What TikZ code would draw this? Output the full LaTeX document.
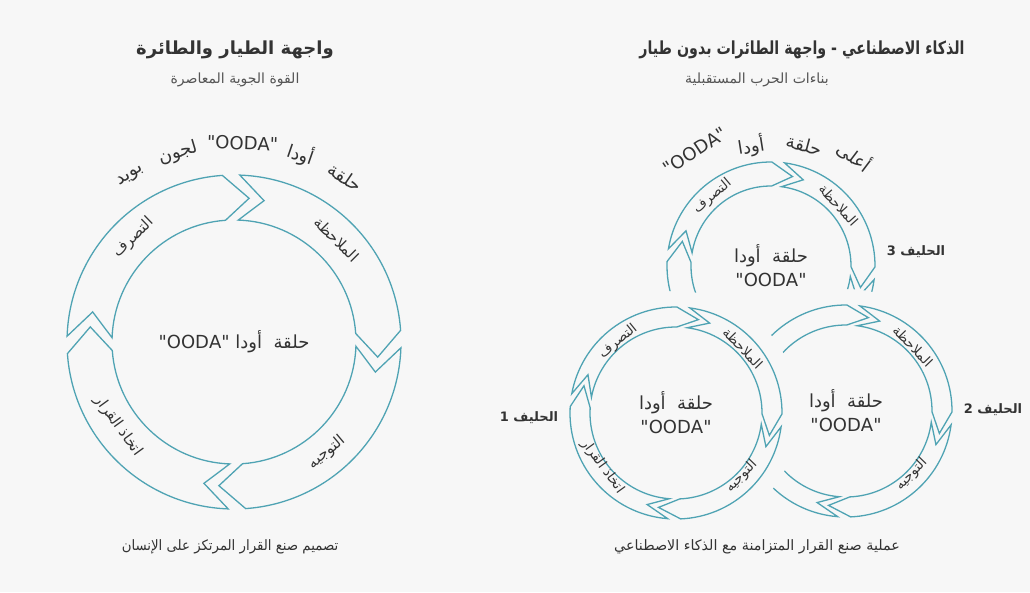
\documentclass[tikz,border=0pt]{standalone}
\usepackage{fontspec}
\newfontfamily\arfont[Script=Arabic]{DejaVu Sans}
\TeXXeTstate=1
\definecolor{bgcol}{HTML}{F7F7F7}
\definecolor{ringcol}{HTML}{4FA3B3}
\definecolor{txtcol}{HTML}{333333}
\definecolor{subcol}{HTML}{555555}
\newcommand\oodaseg[6]{% Ro Ri Rm back front depth
  \draw[ringline] ({#4}:#1pt) arc[start angle={#4}, end angle={#5}, radius=#1pt]
    -- ({#5-#6}:#3pt) -- ({#5}:#2pt)
    arc[start angle={#5}, end angle={#4}, radius=#2pt]
    -- ({#4-#6}:#3pt) -- cycle;}
\newcommand\oodaring[8]{% Ro Ri top right bottom left gap depth
  \pgfmathsetmacro\rmid{(#1+#2)/2}%
  \pgfmathsetmacro\hg{#7/2}%
  \oodaseg{#1}{#2}{\rmid}{#3-\hg}{#4+\hg}{#8}%
  \oodaseg{#1}{#2}{\rmid}{#4-\hg}{#5+\hg}{#8}%
  \oodaseg{#1}{#2}{\rmid}{#5-\hg}{#6+\hg}{#8}%
  \oodaseg{#1}{#2}{\rmid}{#6-\hg}{#3-360+\hg}{#8}}
\tikzset{
  ringline/.style={draw=ringcol, line width=1.3pt, line join=miter},
  ttl/.style={font=\arfont\bfseries\fontsize{18}{22}\selectfont, text=txtcol, inner sep=0pt},
  subttl/.style={font=\arfont\fontsize{14}{17}\selectfont, text=subcol, inner sep=0pt},
  capt/.style={font=\arfont\fontsize{14.3}{18}\selectfont, text=txtcol, inner sep=0pt},
  arcw/.style={font=\arfont\fontsize{18}{22}\selectfont, text=txtcol, inner sep=0pt},
  ctr/.style={font=\arfont\fontsize{18}{24}\selectfont, text=txtcol, inner sep=0pt, align=center},
  ctrs/.style={font=\arfont\fontsize{18}{24}\selectfont, text=txtcol, inner sep=0pt, align=center},
  biglbl/.style={font=\arfont\fontsize{15}{18}\selectfont, text=txtcol, inner sep=0pt},
  smlbl/.style={font=\arfont\fontsize{13.5}{16}\selectfont, text=txtcol, inner sep=0pt},
  ally/.style={font=\arfont\bfseries\fontsize{13}{16}\selectfont, text=txtcol, inner sep=0pt},
}
\begin{document}
\begin{tikzpicture}[x=1pt,y=1pt]
\useasboundingbox (0,0) rectangle (1030,592);
\fill[bgcol] (0,0) rectangle (1030,592);

% ---------- titles ----------
\node[ttl] (t1) at (235,542) {\beginR واجهة الطيار والطائرة\endR};
\node[subttl] (s1) at (235,512) {\beginR القوة الجوية المعاصرة\endR};
\node[ttl, xscale=0.79] (t2) at (802,542) {\beginR الذكاء الاصطناعي - واجهة الطائرات بدون طيار\endR};
\node[subttl] (s2) at (757,512) {\beginR بناءات الحرب المستقبلية\endR};

% ---------- left big ring ----------
\begin{scope}[shift={(234,250)}]
  \oodaring{167}{122}{91}{1}{-89}{-179}{6}{10}
  \node[ctr] (cA) at (0,0) {\beginR حلقة\ \ أودا "\beginL OODA\endL"\endR};
  \node[biglbl, rotate=-45] (obsA) at (45:145pt) {\beginR الملاحظة\endR};
  \node[biglbl, rotate=44] (actA) at (134:145pt) {\beginR التصرف\endR};
  \node[biglbl, rotate=40] (oriA) at (-50:144pt) {\beginR التوجيه\endR};
  \node[biglbl, rotate=-54] (decA) at (216:143pt) {\beginR اتخاذ القرار\endR};
  \node[arcw, rotate=-34] (w1) at (56:199pt) {\beginR حلقة\endR};
  \node[arcw, rotate=-19] (w2) at (70.5:199pt) {\beginR أودا\endR};
  \node[arcw, rotate=-2] (w3) at (87.5:199pt) {"OODA"};
  \node[arcw, rotate=16.5] (w4) at (106.5:197pt) {\beginR لجون\endR};
  \node[arcw, rotate=32] (w5) at (122:195pt) {\beginR بويد\endR};
\end{scope}
\node[capt, xscale=0.93] (c1) at (230,45) {\beginR تصميم صنع القرار المرتكز على الإنسان\endR};

% ---------- top right ring (behind) ----------
\begin{scope}[even odd rule]
  \clip (0,0) -- (0,592) -- (1030,592) -- (1030,0) -- cycle (676,179) circle[radius=122pt];
  \begin{scope}[even odd rule]
    \clip (0,0) -- (0,592) -- (1030,592) -- (1030,0) -- cycle (846,181) circle[radius=122pt];
    \begin{scope}[shift={(771,326)}]
      \oodaring{104}{80}{86}{-4}{-92}{-186}{7}{13}
    \end{scope}
  \end{scope}
\end{scope}
\begin{scope}[shift={(771,326)}]
  \node[ctrs] (cB) at (0,0) {\beginR حلقة\ \ أودا\endR\\"OODA"};
  \node[smlbl, rotate=-48] (obsB) at (42:91pt) {\beginR الملاحظة\endR};
  \node[smlbl, rotate=40] (actB) at (130:91pt) {\beginR التصرف\endR};
\end{scope}
\node[arcw, rotate=-37] (v1) at (855,436) {\beginR أعلى\endR};
\node[arcw, rotate=-15] (v2) at (804,447) {\beginR حلقة\endR};
\node[arcw, rotate=9] (v3) at (751,446) {\beginR أودا\endR};
\node[arcw, rotate=33] (v4) at (695,441) {"OODA"};
\node[ally] (al3) at (916,340) {\beginR الحليف 3\endR};

% ---------- lower right ring ----------
\begin{scope}[even odd rule]
  \clip (0,0) -- (0,592) -- (1030,592) -- (1030,0) -- cycle (676,179) circle[radius=123pt];
  \begin{scope}[shift={(846,181)}]
    \oodaring{106}{86}{86}{-4}{-91}{-187}{7}{13}
  \end{scope}
\end{scope}
\begin{scope}[shift={(846,181)}]
  \node[ctrs] (cC) at (0,0) {\beginR حلقة\ \ أودا\endR\\"OODA"};
  \node[smlbl, rotate=-46] (obsC) at (44:93pt) {\beginR الملاحظة\endR};
  \node[smlbl, rotate=46] (oriC) at (-44:91pt) {\beginR التوجيه\endR};
\end{scope}
\node[ally] (al2) at (993,182) {\beginR الحليف 2\endR};

% ---------- lower left ring ----------
\begin{scope}[shift={(676,179)}]
  \oodaring{106}{86}{86}{-4}{-91}{-187}{7}{13}
  \node[ctrs] (cD) at (0,0) {\beginR حلقة\ \ أودا\endR\\"OODA"};
  \node[smlbl, rotate=-46] (obsD) at (44:93pt) {\beginR الملاحظة\endR};
  \node[smlbl, rotate=39] (actD) at (129:92pt) {\beginR التصرف\endR};
  \node[smlbl, rotate=46] (oriD) at (-44:91pt) {\beginR التوجيه\endR};
  \node[smlbl, rotate=-54] (decD) at (216:91pt) {\beginR اتخاذ القرار\endR};
\end{scope}
\node[ally] (al1) at (529,174) {\beginR الحليف 1\endR};
\node[capt] (c2) at (757,45) {\beginR عملية صنع القرار المتزامنة مع الذكاء الاصطناعي\endR};
\end{tikzpicture}
\end{document}
